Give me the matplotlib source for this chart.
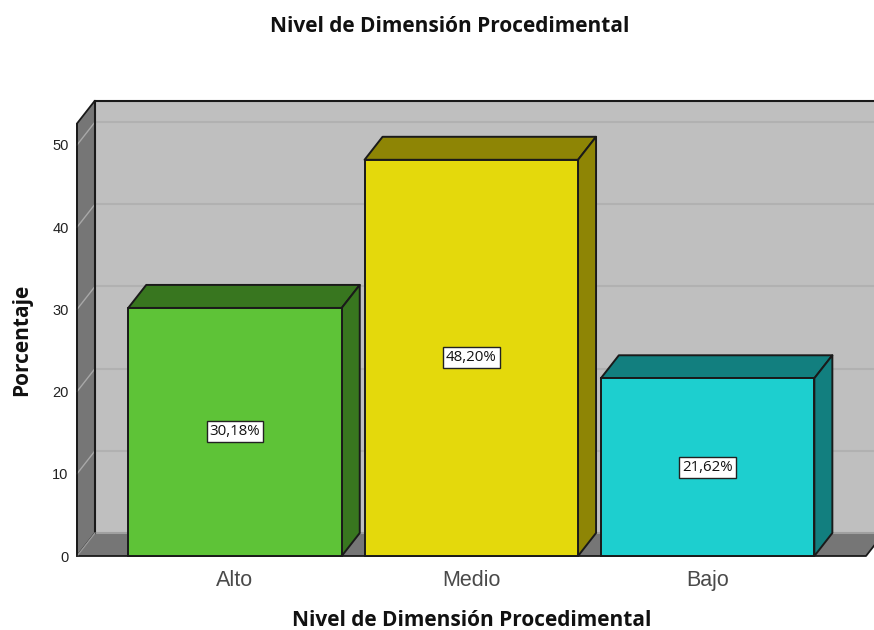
import matplotlib
matplotlib.use("Agg")
import matplotlib.pyplot as plt
from matplotlib.patches import Polygon, Rectangle

categories = ["Alto", "Medio", "Bajo"]
values = [30.18, 48.20, 21.62]
labels = ["30,18%", "48,20%", "21,62%"]
front_colors = ["#5EC337", "#E4D90C", "#1DCFCF"]
side_colors = ["#38761F", "#8E8505", "#127F7F"]
y_ticks = [0, 10, 20, 30, 40, 50]
title = "Nivel de Dimensión Procedimental"

plt.rcParams["font.family"] = ["Liberation Sans", "DejaVu Sans"]
W, H = 874, 630
fig = plt.figure(figsize=(W / 100, H / 100), dpi=100)
L, R, T, B = 77, 866, 123.5, 556
ax = fig.add_axes([L / W, 1 - B / H, (R - L) / W, (B - T) / H])
PX_X = 236.3
x0 = (L - 235.0) / PX_X
ax.set_xlim(x0, x0 + (R - L) / PX_X)
ax.set_ylim(0, (B - T) / 8.22)
ymax = ax.get_ylim()[1]
xl, xr = ax.get_xlim()
DX = 18 / PX_X
DY = 23 / 8.22
BW = 213.5 / PX_X

edge = "#1a1a1a"
wall = "#BFBFBF"
dark = "#767676"
grid = "#B1B1B1"
kw = dict(clip_on=False)

# back wall (extends to the image edge)
ax.add_patch(Polygon([(xl + DX, DY), (xr + DX, DY), (xr + DX, ymax + DY), (xl + DX, ymax + DY)],
                     closed=True, fc=wall, ec="none", zorder=1, **kw))
# gridlines on back wall and left wall
for t in y_ticks[1:]:
    ax.plot([xl + DX, xr + DX], [t + DY, t + DY], color=grid, lw=1.5, zorder=2, **kw)
    ax.plot([xl, xl + DX], [t, t + DY], color="#A8A8A8", lw=1, zorder=3.5, **kw)
ax.plot([xl + DX, xr + DX], [ymax + DY] * 2, color=edge, lw=1.5, zorder=2.5, **kw)
ax.plot([xl + DX] * 2, [DY, ymax + DY], color=edge, lw=1.5, zorder=4, **kw)
# left wall
ax.add_patch(Polygon([(xl, 0), (xl + DX, DY), (xl + DX, ymax + DY), (xl, ymax)],
                     closed=True, fc=dark, ec=edge, lw=1.3, zorder=3, **kw))
# floor
ax.add_patch(Polygon([(xl, 0), (xr, 0), (xr + DX, DY), (xl + DX, DY)],
                     closed=True, fc=dark, ec="none", zorder=3, **kw))
ax.plot([xl + DX, xr + DX], [DY, DY], color="#A0A0A0", lw=1.5, zorder=3, **kw)
ax.plot([xl, xr, xr + DX], [0, 0, DY], color=edge, lw=1.3, zorder=4, **kw)
ax.plot([xl, xl + DX], [0, DY], color="#999999", lw=1, zorder=4, **kw)
ax.plot([xl, xl], [0, ymax], color=edge, lw=1.3, zorder=4, **kw)

# 3D bars
for i, (v, fc, sc) in enumerate(zip(values, front_colors, side_colors)):
    a, b = i - BW / 2, i + BW / 2
    ax.add_patch(Polygon([(a, v), (b, v), (b + DX, v + DY), (a + DX, v + DY)],
                         closed=True, fc=sc, ec=edge, lw=1.4, joinstyle="round", zorder=5, **kw))
    ax.add_patch(Polygon([(b, 0), (b + DX, DY), (b + DX, v + DY), (b, v)],
                         closed=True, fc=sc, ec=edge, lw=1.4, joinstyle="round", zorder=5, **kw))
    ax.add_patch(Rectangle((a, 0), BW, v, fc=fc, ec=edge, lw=1.4, zorder=6, **kw))
    ax.text(i, v / 2, labels[i], ha="center", va="center", fontsize=10.8, family="Open Sans",
            color="#111111", zorder=8,
            bbox=dict(boxstyle="square,pad=0.2", fc="white", ec="#222222", lw=1))

for s in ax.spines.values():
    s.set_visible(False)
ax.patch.set_visible(False)
ax.set_xticks(range(len(categories)), categories)
ax.set_yticks(y_ticks)
ax.tick_params(axis="x", length=0, pad=10, labelsize=15.5, labelcolor="#4a4a4a")
ax.tick_params(axis="y", length=0, pad=6, labelsize=10.5, labelcolor="#222222")

tkw = dict(ha="center", va="center", fontsize=15, fontweight="bold", family="Open Sans", color="#111111")
fig.text(450 / W, 1 - 27 / H, title, **tkw)
fig.text(471.5 / W, 1 - 621 / H, title, **tkw)
fig.text(22 / W, 1 - 339.5 / H, "Porcentaje", rotation=90, **tkw)

fig.savefig("out.png", dpi=100, facecolor="white")
